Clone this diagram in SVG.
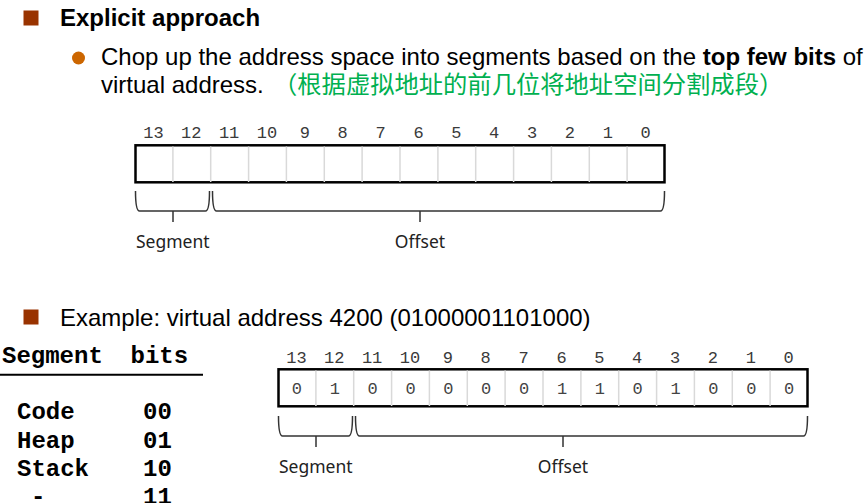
<svg xmlns="http://www.w3.org/2000/svg" width="867" height="503" viewBox="0 0 867 503">
<defs>
<style>
.body{font-family:"Liberation Sans","Noto Sans CJK SC",Arial,sans-serif;font-size:24px;fill:#000}
.b{font-weight:bold}
.zh{fill:#00b050;font-family:"Noto Sans CJK SC",sans-serif;font-size:24.3px}
.sq{fill:#993300}
.num{font-family:"Liberation Mono","Courier New",monospace;font-size:17px;fill:#3a3a3a;text-anchor:middle}
.val{font-family:"Liberation Mono","Courier New",monospace;font-size:17px;fill:#444;text-anchor:middle}
.frame{fill:#fff;stroke:#000;stroke-width:2.5}
.div{stroke:#d9d9d9;stroke-width:1.5}
.brace{fill:none;stroke:#333;stroke-width:1.5}
.lbl{font-family:"Noto Sans","Open Sans",sans-serif;font-size:17.5px;fill:#222}
.tbl{font-family:"Liberation Mono","Courier New",monospace;font-size:24px;font-weight:bold;fill:#000}
</style>
</defs>
<rect width="867" height="503" fill="#fff"/>

<g id="header1">
<rect class="sq" x="23.5" y="10.5" width="15" height="15"/>
<text class="body b" x="60" y="25.5">Explicit approach</text>
</g>

<g id="bullet1">
<circle cx="78.5" cy="58" r="6.5" fill="#cc6600"/>
<text class="body" x="101" y="64.5">Chop up the address space into segments based on the <tspan class="b">top few bits</tspan> of</text>
<text class="body" x="101" y="93">virtual address.<tspan class="zh" x="273">（根据虚拟地址的前几位将地址空间分割成段）</tspan></text>
</g>

<g id="register1">
<text class="num" y="138.3"><tspan x="153.4">13</tspan><tspan x="191.3">12</tspan><tspan x="229.1">11</tspan><tspan x="267">10</tspan><tspan x="304.9">9</tspan><tspan x="342.7">8</tspan><tspan x="380.6">7</tspan><tspan x="418.5">6</tspan><tspan x="456.3">5</tspan><tspan x="494.2">4</tspan><tspan x="532.1">3</tspan><tspan x="569.9">2</tspan><tspan x="607.8">1</tspan><tspan x="645.6">0</tspan></text>
<rect class="frame" x="135.5" y="145.3" width="529" height="37"/>
<path class="div" d="M172.9,146.5V182M210.7,146.5V182M248.6,146.5V182M286.4,146.5V182M324.3,146.5V182M362.1,146.5V182M400,146.5V182M437.9,146.5V182M475.7,146.5V182M513.6,146.5V182M551.4,146.5V182M589.3,146.5V182M627.1,146.5V182"/>
</g>

<g id="register2">
<text class="num" y="363.3"><tspan x="296.4">13</tspan><tspan x="334.3">12</tspan><tspan x="372.1">11</tspan><tspan x="410">10</tspan><tspan x="447.9">9</tspan><tspan x="485.7">8</tspan><tspan x="523.6">7</tspan><tspan x="561.5">6</tspan><tspan x="599.3">5</tspan><tspan x="637.2">4</tspan><tspan x="675.1">3</tspan><tspan x="712.9">2</tspan><tspan x="750.8">1</tspan><tspan x="788.6">0</tspan></text>
<rect class="frame" x="278.5" y="369.3" width="529" height="37"/>
<path class="div" d="M315.9,370.5V406M353.7,370.5V406M391.6,370.5V406M429.4,370.5V406M467.3,370.5V406M505.1,370.5V406M543,370.5V406M580.9,370.5V406M618.7,370.5V406M656.6,370.5V406M694.4,370.5V406M732.3,370.5V406M770.1,370.5V406"/>
<text class="val" y="394"><tspan x="296.9">0</tspan><tspan x="334.8">1</tspan><tspan x="372.6">0</tspan><tspan x="410.5">0</tspan><tspan x="448.4">0</tspan><tspan x="486.2">0</tspan><tspan x="524.1">0</tspan><tspan x="562">1</tspan><tspan x="599.8">1</tspan><tspan x="637.7">0</tspan><tspan x="675.6">1</tspan><tspan x="713.4">0</tspan><tspan x="751.3">0</tspan><tspan x="789.1">0</tspan></text>
</g>

<g id="connectors">
<path class="brace" d="M135.5,191C135.5,201 136,211 139.5,211L205.5,211C209,211 209.5,201 209.5,191M173,211V222"/>
<path class="brace" d="M212.5,191C212.5,201 213,211 216.5,211L660.5,211C664,211 664.5,201 664.5,191M420,211V222"/>
<path class="brace" d="M278.5,416C278.5,426 279,436 282.5,436L348.5,436C352,436 352.5,426 352.5,416M316,436V447"/>
<path class="brace" d="M355.5,416C355.5,426 356,436 359.5,436L803.5,436C807,436 807.5,426 807.5,416M563,436V447"/>
</g>

<g id="labels">
<text class="lbl" x="136" y="247.5">Segment</text>
<text class="lbl" x="420" y="247.5" text-anchor="middle">Offset</text>
<text class="lbl" x="279" y="472.5">Segment</text>
<text class="lbl" x="563" y="472.5" text-anchor="middle">Offset</text>
</g>

<g id="header2">
<rect class="sq" x="23.5" y="309.5" width="15" height="15"/>
<text class="body" x="60" y="326">Example: virtual address 4200 (01000001101000)</text>
</g>

<g id="table">
<text class="tbl" x="2" y="362.7">Segment</text><text class="tbl" x="130.5" y="362.7">bits</text>
<line x1="0" y1="374.7" x2="203" y2="374.7" stroke="#000" stroke-width="2"/>
<text class="tbl" x="17" y="419.3">Code</text><text class="tbl" x="143" y="419.3">00</text>
<text class="tbl" x="17" y="448">Heap</text><text class="tbl" x="143" y="448">01</text>
<text class="tbl" x="17" y="476">Stack</text><text class="tbl" x="143" y="476">10</text>
<text class="tbl" x="31" y="503.5">-</text><text class="tbl" x="143" y="503.5">11</text>
</g>
</svg>
